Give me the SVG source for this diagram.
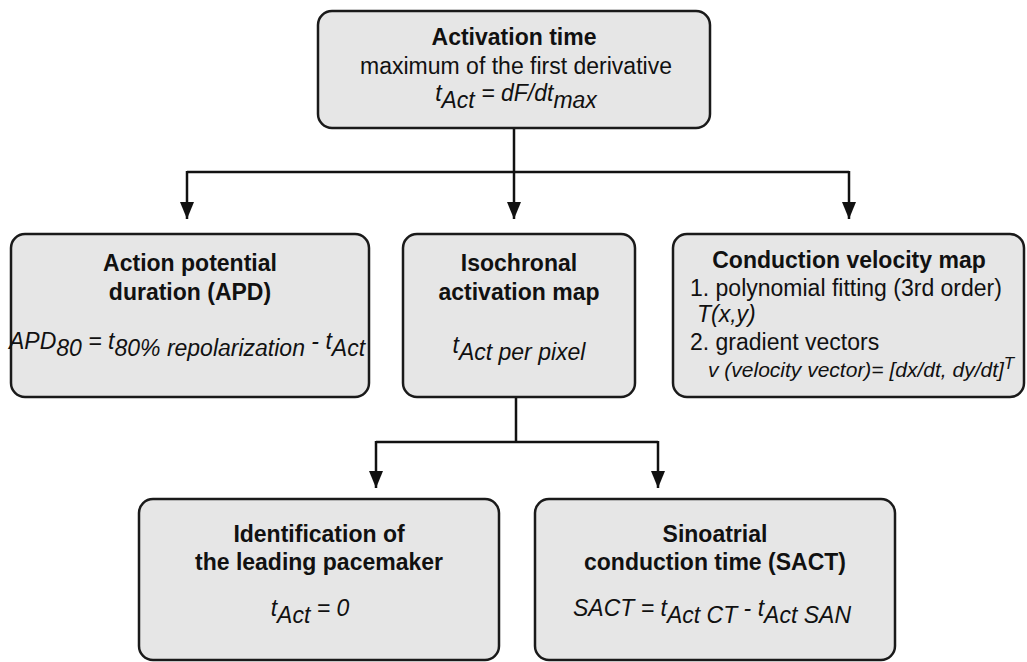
<svg xmlns="http://www.w3.org/2000/svg" width="1027" height="662" viewBox="0 0 1027 662">
<style>
.box{fill:#e6e6e6;stroke:#1a1a1a;stroke-width:2.5}
.t{font-family:"Liberation Sans",Arial,sans-serif;font-size:23px;fill:#111}
.b{font-weight:bold}
.i{font-style:italic}
.c{text-anchor:middle}
.ln{fill:none;stroke:#111;stroke-width:2.5}
</style>
<defs>
<marker id="arr" markerUnits="userSpaceOnUse" markerWidth="17" markerHeight="14" viewBox="0 0 17 14" refX="17" refY="7" orient="auto">
<path d="M0,0 L17,7 L0,14 z" fill="#111"/>
</marker>
</defs>
<g id="connectors">
<path class="ln" d="M514,128 V172 M187,172 H849"/>
<path class="ln" d="M187,171 V219" marker-end="url(#arr)"/>
<path class="ln" d="M514,171 V219" marker-end="url(#arr)"/>
<path class="ln" d="M849,171 V219" marker-end="url(#arr)"/>
<path class="ln" d="M516,397 V442 M376,442 H658"/>
<path class="ln" d="M376,441 V488" marker-end="url(#arr)"/>
<path class="ln" d="M658,441 V488" marker-end="url(#arr)"/>
</g>
<g id="activation">
<rect class="box" x="318" y="11" width="392" height="117" rx="14"/>
<text class="t b c" x="514" y="45">Activation time</text>
<text class="t c" x="516" y="74">maximum of the first derivative</text>
<text class="t i c" x="516" y="101">t<tspan dy="7">Act</tspan><tspan dy="-7"> = dF/dt</tspan><tspan dy="7">max</tspan></text>
</g>
<g id="apd">
<rect class="box" x="11" y="234" width="358" height="163" rx="14"/>
<text class="t b c" x="190" y="271">Action potential</text>
<text class="t b c" x="190" y="300">duration (APD)</text>
<text class="t i c" x="187" y="349">APD<tspan dy="7">80</tspan><tspan dy="-7"> = t</tspan><tspan dy="7">80% repolarization</tspan><tspan dy="-7"> - t</tspan><tspan dy="7">Act</tspan></text>
</g>
<g id="isochronal">
<rect class="box" x="403" y="234" width="232" height="163" rx="14"/>
<text class="t b c" x="519" y="271">Isochronal</text>
<text class="t b c" x="519" y="300">activation map</text>
<text class="t i c" x="519" y="353">t<tspan dy="7">Act per pixel</tspan></text>
</g>
<g id="cv">
<rect class="box" x="673" y="234" width="351" height="163" rx="14"/>
<text class="t b c" x="849" y="268">Conduction velocity map</text>
<text class="t" x="690" y="296">1. polynomial fitting (3rd order)</text>
<text class="t i" x="697" y="322">T(x,y)</text>
<text class="t" x="690" y="350">2. gradient vectors</text>
<text class="t i" x="708" y="377" style="font-size:21px">v (velocity vector)= [dx/dt, dy/dt]<tspan dy="-8" style="font-size:17px">T</tspan></text>
</g>
<g id="pacemaker">
<rect class="box" x="139" y="499" width="360" height="161" rx="14"/>
<text class="t b c" x="319" y="542">Identification of</text>
<text class="t b c" x="319" y="570">the leading pacemaker</text>
<text class="t i c" x="310" y="616">t<tspan dy="7">Act</tspan><tspan dy="-7"> = 0</tspan></text>
</g>
<g id="sact">
<rect class="box" x="535" y="499" width="360" height="161" rx="14"/>
<text class="t b c" x="715" y="542">Sinoatrial</text>
<text class="t b c" x="715" y="570">conduction time (SACT)</text>
<text class="t i c" x="712" y="616">SACT = t<tspan dy="7">Act CT</tspan><tspan dy="-7"> - t</tspan><tspan dy="7">Act SAN</tspan></text>
</g>
</svg>
